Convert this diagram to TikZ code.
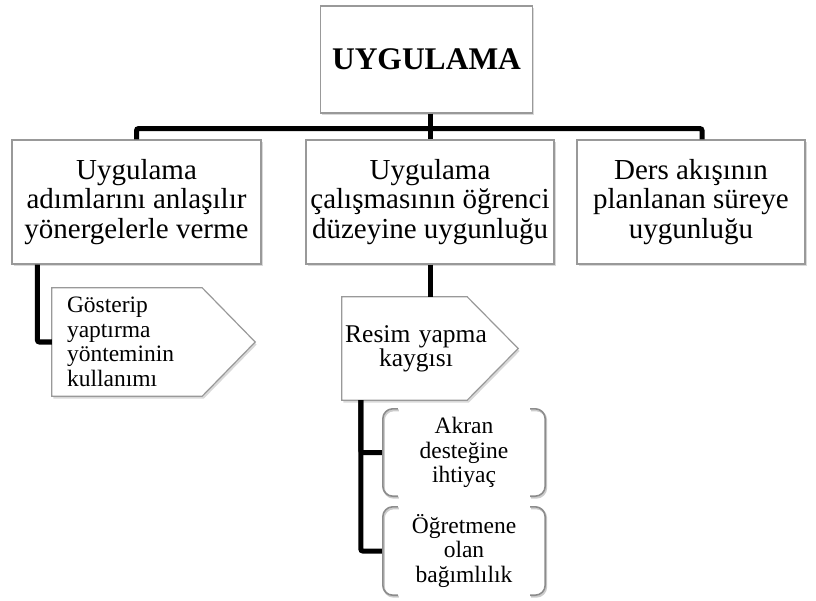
\documentclass[tikz,border=0pt]{standalone}
\usepackage{fontspec}
\setmainfont{Liberation Serif}
\usetikzlibrary{shadows,backgrounds}

\tikzset{
  box/.style={draw=black!40, line width=1.2pt, fill=white, align=center, inner sep=0pt,
    drop shadow={shadow xshift=1.5pt, shadow yshift=-2.5pt, opacity=0.3}},
  pent/.style={draw=black!40, line width=1.2pt, fill=white,
    drop shadow={shadow xshift=1.5pt, shadow yshift=-2.5pt, opacity=0.3}},
  conn/.style={line width=5pt, rounded corners=2pt},
  brk/.style={draw=black!45, line width=1.6pt, rounded corners=10pt,
    preaction={draw=black!20, line width=2pt, transform canvas={xshift=1pt, yshift=-1.5pt}}},
  lvltwo/.style={font=\fontsize{29}{29.5}\selectfont},
  lvlthree/.style={font=\fontsize{23.5}{24.5}\selectfont},
}

\begin{document}
\begin{tikzpicture}[x=1pt, y=-1pt]
    \useasboundingbox (0,0) rectangle (816,601);
    \node [box, minimum width=212pt, minimum height=107pt, font=\fontsize{31.5}{33}\selectfont\bfseries] (root) at (426.5,59.5) {UYGULAMA};
    \node [box, lvltwo, minimum width=249pt, minimum height=124pt] (a1) at (136.5,202) {Uygulama\\adımlarını anlaşılır\\yönergelerle verme};
    \node [box, lvltwo, minimum width=248pt, minimum height=124pt] (a2) at (430,202) {Uygulama\\çalışmasının öğrenci\\düzeyine uygunluğu};
    \node [box, lvltwo, minimum width=228pt, minimum height=124pt] (a3) at (691,202) {Ders akışının\\planlanan süreye\\uygunluğu};
    \node [lvlthree, minimum width=203pt, minimum height=108pt, text width=173pt, inner xsep=15pt, inner ysep=0pt, align=left] (b1) at (153.5,342) {Gösterip\\yaptırma\\yönteminin\\kullanımı};
    \node [minimum width=148pt, minimum height=103pt, text width=148pt, inner sep=0pt, align=center, font=\fontsize{25.5}{22.5}\selectfont] (b2) at (416,348.5) {Resim yapma\\kaygısı};
    \node [lvlthree, minimum width=162pt, minimum height=87pt, text width=162pt, inner sep=0pt, align=center] (c1) at (464,452.5) {Akran\\desteğine\\ihtiyaç};
    \node [lvlthree, minimum width=162pt, minimum height=88pt, text width=162pt, inner sep=0pt, align=center] (c2) at (464,551) {Öğretmene\\olan\\bağımlılık};
    \begin{scope}[on background layer]
    \draw [pent] (b1.north west) -- ([xshift=-53pt]b1.north east) -- (b1.east) -- ([xshift=-53pt]b1.south east) -- (b1.south west) -- cycle;
    \draw [pent] (b2.north west) -- ([xshift=-23pt]b2.north east) -- ([xshift=28pt]b2.east) -- ([xshift=-23pt]b2.south east) -- (b2.south west) -- cycle;
    \end{scope}
    \draw [conn] ([xshift=3.5pt]root.south) -- ++(0,15) coordinate (hub);
    \draw [conn] (hub) -| (a1.north);
    \draw [conn] (hub) -| ([xshift=11pt]a3.north);
    \draw [conn] (hub) -- (a2.north);
    \draw [conn] ([xshift=26pt]a1.south west) |- (b1.west);
    \draw [conn] (a2.south) -- (a2.south |- b2.north);
    \draw [conn] ([xshift=19pt]b2.south west) |- (c1.west);
    \draw [conn] ([xshift=19pt]b2.south west) |- (c2.west);
    \draw [brk] ([xshift=15pt]c1.north west) -- (c1.north west) -- (c1.south west) -- ([xshift=15pt]c1.south west);
    \draw [brk] ([xshift=-15pt]c1.north east) -- (c1.north east) -- (c1.south east) -- ([xshift=-15pt]c1.south east);
    \draw [brk] ([xshift=15pt]c2.north west) -- (c2.north west) -- (c2.south west) -- ([xshift=15pt]c2.south west);
    \draw [brk] ([xshift=-15pt]c2.north east) -- (c2.north east) -- (c2.south east) -- ([xshift=-15pt]c2.south east);
\end{tikzpicture}
\end{document}
